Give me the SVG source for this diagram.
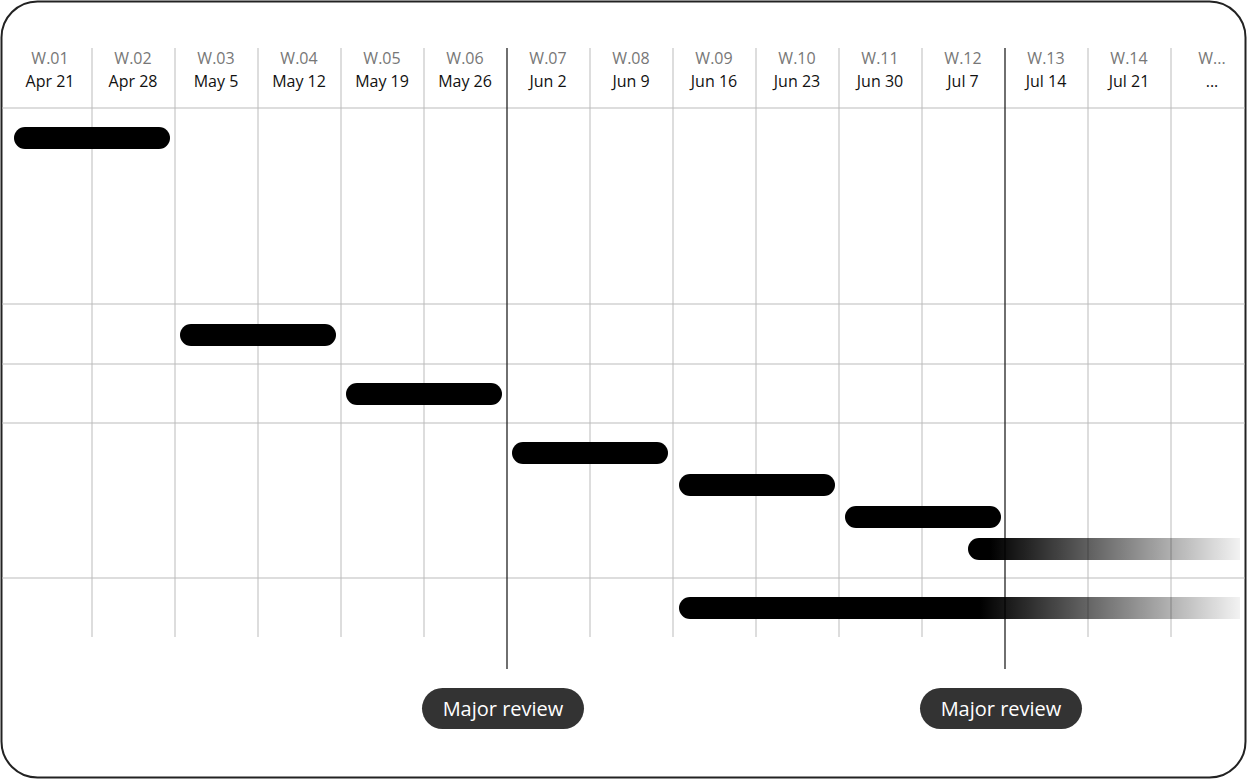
<svg xmlns="http://www.w3.org/2000/svg" width="1260" height="784" viewBox="0 0 1260 784">
<style>
.wk{font-family:"Open Sans","Noto Sans",sans-serif;font-size:16px;fill:#777;text-anchor:middle}
.dt{font-family:"Open Sans","Noto Sans",sans-serif;font-size:16px;fill:#111;text-anchor:middle}
.grid line{stroke:#bbb;stroke-width:1}
.major{stroke:#222;stroke-width:1.3}
.bar{fill:#000}
.pill{fill:#333}
.pt{font-family:"Open Sans","Noto Sans",sans-serif;font-size:20px;fill:#fff;text-anchor:middle}
</style>
<defs>
<linearGradient id="fade7" gradientUnits="userSpaceOnUse" x1="990" y1="0" x2="1240" y2="0">
<stop offset="0" stop-color="#000"/><stop offset="1" stop-color="#000" stop-opacity="0.05"/>
</linearGradient>
<linearGradient id="fade8" gradientUnits="userSpaceOnUse" x1="980" y1="0" x2="1240" y2="0">
<stop offset="0" stop-color="#000"/><stop offset="1" stop-color="#000" stop-opacity="0.05"/>
</linearGradient>
</defs>
<rect x="0" y="0" width="1260" height="784" fill="#fff"/>
<rect id="frame" x="1.5" y="1.5" width="1244" height="776" rx="36" fill="#fff" stroke="#222" stroke-width="2"/>
<g id="connectors">
<g class="grid">
<line x1="2" y1="108" x2="1245" y2="108"/>
<line x1="2" y1="304" x2="1245" y2="304"/>
<line x1="2" y1="364" x2="1245" y2="364"/>
<line x1="2" y1="423" x2="1245" y2="423"/>
<line x1="2" y1="578" x2="1245" y2="578"/>
<line x1="92" y1="48" x2="92" y2="637"/>
<line x1="175" y1="48" x2="175" y2="637"/>
<line x1="258" y1="48" x2="258" y2="637"/>
<line x1="341" y1="48" x2="341" y2="637"/>
<line x1="424" y1="48" x2="424" y2="637"/>
<line x1="590" y1="48" x2="590" y2="637"/>
<line x1="673" y1="48" x2="673" y2="637"/>
<line x1="756" y1="48" x2="756" y2="637"/>
<line x1="839" y1="48" x2="839" y2="637"/>
<line x1="922" y1="48" x2="922" y2="637"/>
<line x1="1088" y1="48" x2="1088" y2="637"/>
<line x1="1171" y1="48" x2="1171" y2="637"/>
</g>
<line class="major" x1="507" y1="48" x2="507" y2="669"/>
<line class="major" x1="1005" y1="48" x2="1005" y2="669"/>
</g>
<g id="header">
<text class="wk" x="50" y="64">W.01</text><text class="dt" x="50" y="87">Apr 21</text>
<text class="wk" x="133" y="64">W.02</text><text class="dt" x="133" y="87">Apr 28</text>
<text class="wk" x="216" y="64">W.03</text><text class="dt" x="216" y="87">May 5</text>
<text class="wk" x="299" y="64">W.04</text><text class="dt" x="299" y="87">May 12</text>
<text class="wk" x="382" y="64">W.05</text><text class="dt" x="382" y="87">May 19</text>
<text class="wk" x="465" y="64">W.06</text><text class="dt" x="465" y="87">May 26</text>
<text class="wk" x="548" y="64">W.07</text><text class="dt" x="548" y="87">Jun 2</text>
<text class="wk" x="631" y="64">W.08</text><text class="dt" x="631" y="87">Jun 9</text>
<text class="wk" x="714" y="64">W.09</text><text class="dt" x="714" y="87">Jun 16</text>
<text class="wk" x="797" y="64">W.10</text><text class="dt" x="797" y="87">Jun 23</text>
<text class="wk" x="880" y="64">W.11</text><text class="dt" x="880" y="87">Jun 30</text>
<text class="wk" x="963" y="64">W.12</text><text class="dt" x="963" y="87">Jul 7</text>
<text class="wk" x="1046" y="64">W.13</text><text class="dt" x="1046" y="87">Jul 14</text>
<text class="wk" x="1129" y="64">W.14</text><text class="dt" x="1129" y="87">Jul 21</text>
<text class="wk" x="1212" y="64">W...</text><text class="dt" x="1212" y="87">...</text>
</g>
<g id="bar1"><rect class="bar" x="14" y="127" width="156" height="22" rx="11"/></g>
<g id="bar2"><rect class="bar" x="180" y="324" width="156" height="22" rx="11"/></g>
<g id="bar3"><rect class="bar" x="346" y="383" width="156" height="22" rx="11"/></g>
<g id="bar4"><rect class="bar" x="512" y="442" width="156" height="22" rx="11"/></g>
<g id="bar5"><rect class="bar" x="679" y="474" width="156" height="22" rx="11"/></g>
<g id="bar6"><rect class="bar" x="845" y="506" width="156" height="22" rx="11"/></g>
<g id="bar7"><path d="M979,538 H1240 V560 H979 A11,11 0 0 1 979,538 Z" fill="url(#fade7)"/></g>
<g id="bar8"><path d="M690,597 H1240 V619 H690 A11,11 0 0 1 690,597 Z" fill="url(#fade8)"/></g>
<g id="review1"><rect class="pill" x="422" y="688" width="162" height="41" rx="20.5"/><text class="pt" x="503" y="716">Major review</text></g>
<g id="review2"><rect class="pill" x="920" y="688" width="162" height="41" rx="20.5"/><text class="pt" x="1001" y="716">Major review</text></g>
</svg>
